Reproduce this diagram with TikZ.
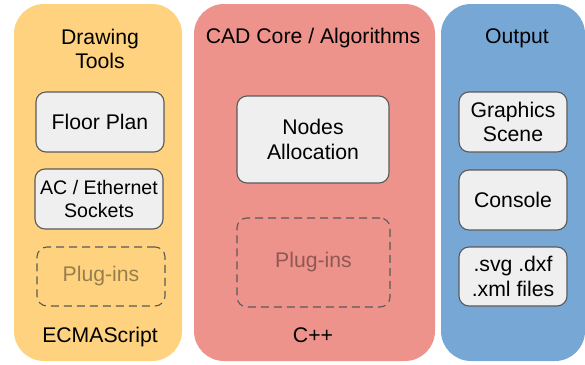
\documentclass[tikz,border=0pt]{standalone}
\usepackage{fontspec}
\setmainfont{Liberation Sans}
\definecolor{panelY}{HTML}{FED27F}
\definecolor{panelR}{HTML}{EE938B}
\definecolor{panelB}{HTML}{76A7D5}
\definecolor{boxfill}{HTML}{EFEFEF}
\definecolor{boxline}{HTML}{5A5A5A}
\begin{document}
\begin{tikzpicture}[x=1pt,y=-1pt,
  panel/.style={rounded corners=30pt},
  itembox/.style={draw=boxline,fill=boxfill,line width=1.1pt,rounded corners=10pt,align=center,font=\fontsize{21.2}{24.5}\selectfont,inner sep=0pt},
  plugbox/.style={draw=boxline,dash pattern=on 8pt off 5pt,line width=1.1pt,rounded corners=10pt,align=center,font=\fontsize{21.2}{24.5}\selectfont,text opacity=0.4,inner sep=0pt},
  title/.style={align=center,font=\fontsize{21.2}{24}\selectfont,inner sep=0pt},
]
\useasboundingbox (0,0) rectangle (585,364);
% panels
\fill[panelY,panel] (14,4) rectangle (182,361);
\fill[panelR,panel] (194,4) rectangle (435,361);
\fill[panelB,panel] (441,4) rectangle (585,361);

% yellow column
\node[title,anchor=north] (tY) at (100,29) {Drawing\\Tools};
\node[itembox,minimum width=128pt,minimum height=60pt] (floor) at (100,122) {Floor Plan};
\node[itembox,minimum width=128pt,minimum height=60pt,font=\fontsize{19.6}{23}\selectfont] (ac) at (99,199) {AC / Ethernet\\Sockets};
\node[plugbox,minimum width=128pt,minimum height=59pt] (plugY) at (101,276.5) {Plug-ins};
\node[title,anchor=base] (ecma) at (100,342) {ECMAScript};

% red column
\node[title,anchor=base] (tR) at (313,43.5) {CAD Core / Algorithms};
\node[itembox,minimum width=152pt,minimum height=87pt] (nodes) at (313,139.5) {Nodes\\Allocation};
\node[plugbox,minimum width=153pt,minimum height=89pt] (plugR) at (313.5,262.5) {Plug-ins};
\node[title,anchor=base] (cpp) at (313,342) {C++};

% blue column
\node[title,anchor=base] (tB) at (517,43) {Output};
\node[itembox,minimum width=108pt,minimum height=60pt] (gfx) at (513,122) {Graphics\\Scene};
\node[itembox,minimum width=108pt,minimum height=60pt] (console) at (513,200) {Console};
\node[itembox,minimum width=108pt,minimum height=59pt] (files) at (513,276.5) {.svg .dxf\\.xml files};
\end{tikzpicture}
\end{document}
